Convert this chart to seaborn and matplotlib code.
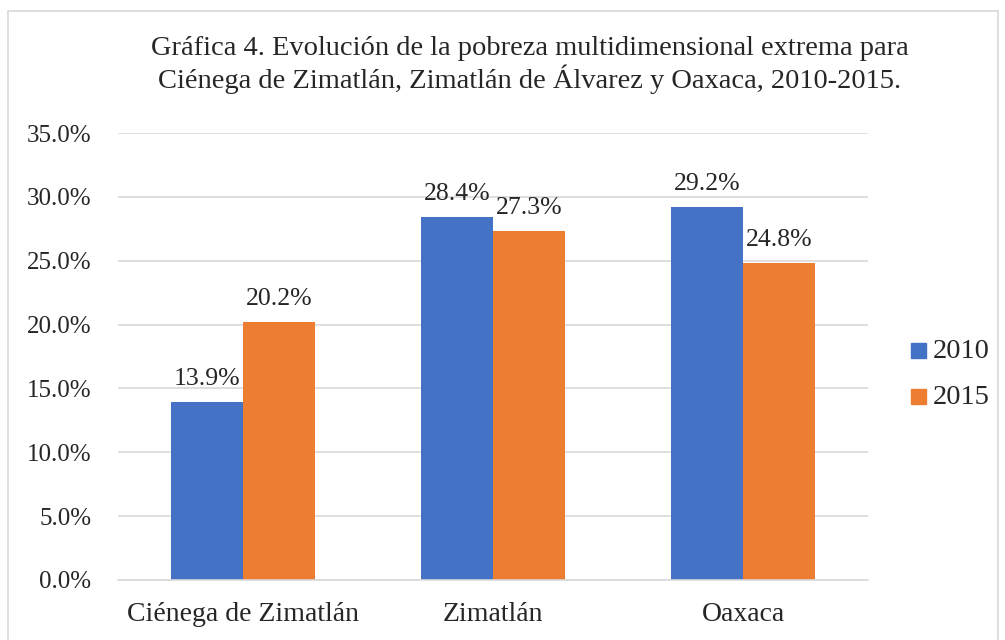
import matplotlib
matplotlib.use("Agg")
import matplotlib.pyplot as plt
import seaborn as sns
import pandas as pd
from matplotlib.patches import Rectangle

categories = ["Ciénega de Zimatlán", "Zimatlán", "Oaxaca"]
years = ["2010", "2015"]
values_2010 = [13.9, 28.4, 29.2]
values_2015 = [20.2, 27.3, 24.8]
yticks = [0, 5, 10, 15, 20, 25, 30, 35]
title = ("Gráfica 4. Evolución de la pobreza multidimensional extrema para\n"
         "Ciénega de Zimatlán, Zimatlán de Álvarez y Oaxaca, 2010-2015.")

df = pd.DataFrame({
    "cat": categories * 2,
    "year": [years[0]] * 3 + [years[1]] * 3,
    "val": values_2010 + values_2015,
})

sns.set_theme(style="white")
FAM = ["Liberation Serif", "DejaVu Serif"]
plt.rcParams["font.family"] = FAM

fig = plt.figure(figsize=(10.05, 6.4), dpi=100)
ax = fig.add_axes([118/1005, 1-580/640, 750/1005, 447/640])

palette = {"2010": "#4472C4", "2015": "#ED7D31"}
sns.barplot(data=df, x="cat", y="val", hue="year", order=categories,
            hue_order=years, palette=palette, width=0.576, saturation=1,
            ax=ax, legend=False, linewidth=0)

ax.set_ylim(0, 35)
ax.set_xlim(-0.5, 2.5)
ax.set_yticks(yticks)
ax.set_yticklabels([f"{t:.1f}%" for t in yticks], fontsize=18, family=FAM)
ax.set_xticks(range(len(categories)))
ax.set_xticklabels(categories, fontsize=20, family=FAM)
ax.tick_params(axis="x", length=0, pad=15.5)
ax.tick_params(axis="y", length=0, pad=19)
ax.set_xlabel("")
ax.set_ylabel("")
ax.grid(axis="y", color="#D9D9D9", linewidth=1.2)
ax.set_axisbelow(True)
for s in ["left", "right", "top"]:
    ax.spines[s].set_visible(False)
ax.spines["bottom"].set_color("#D9D9D9")
ax.spines["bottom"].set_linewidth(1.2)

for cont in ax.containers:
    ax.bar_label(cont, labels=[f"{v:.1f}%" for v in cont.datavalues],
                 fontsize=18.5, padding=9, family=FAM)

fig.text(530/1005, 1-65/640, title, ha="center", va="center",
         fontsize=20.5, linespacing=1.12, family=FAM)

# legend
for i, (y, col) in enumerate(zip(years, ["#4472C4", "#ED7D31"])):
    yy = 1 - (351 + i*46)/640
    fig.patches.append(Rectangle((911/1005, yy - 7/640), 15/1005, 15/640,
                                 transform=fig.transFigure, color=col))
    fig.text(933/1005, yy, y, ha="left", va="center", fontsize=20.5, family=FAM)

fig.patches.append(Rectangle((8/1005, -10/640), 990/1005, (640-11+10)/640,
                             transform=fig.transFigure, fill=False,
                             edgecolor="#D9D9D9", linewidth=1.2))

fig.savefig("out.png", dpi=100)
